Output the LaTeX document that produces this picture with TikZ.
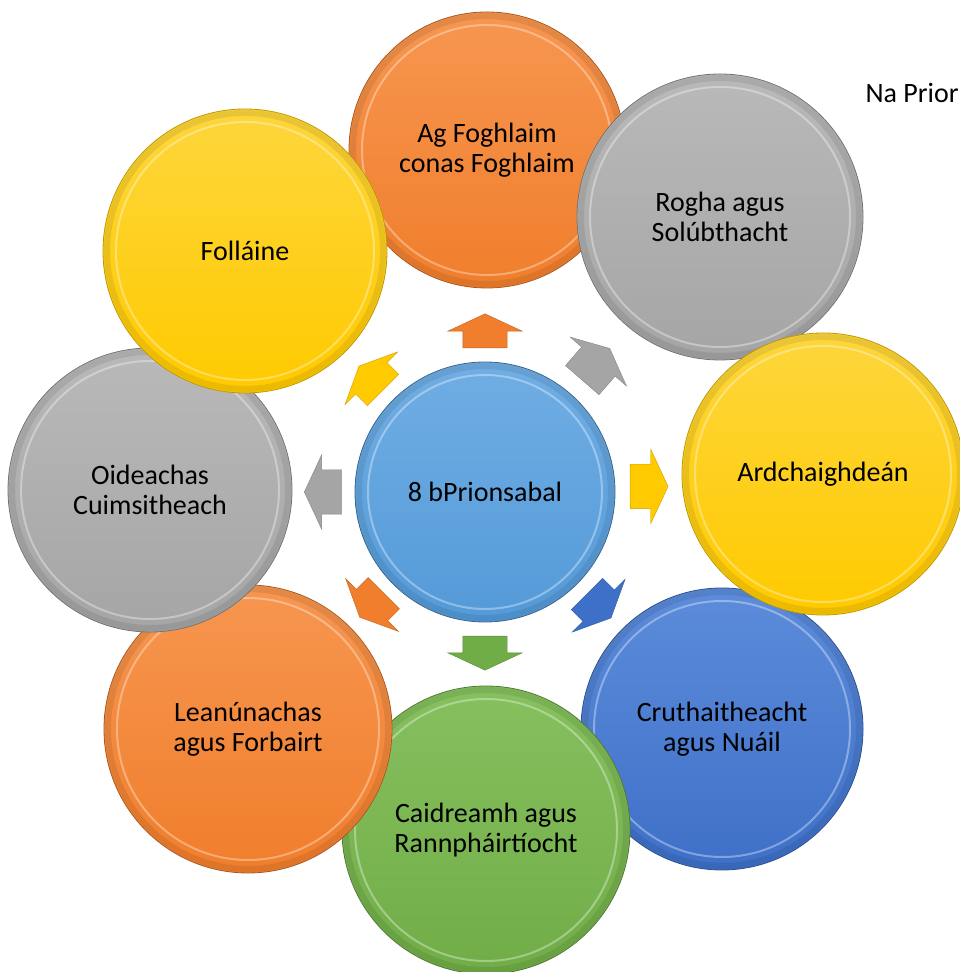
\documentclass[tikz,border=0pt]{standalone}
\usepackage{fontspec}
\setmainfont{Carlito}
\usetikzlibrary{shapes.arrows,calc}

\definecolor{orangeF}{RGB}{240,126,44}
\definecolor{orangeL}{RGB}{247,150,80}
\definecolor{greyF}{RGB}{165,165,165}
\definecolor{greyL}{RGB}{185,185,185}
\definecolor{yellowF}{RGB}{255,202,0}
\definecolor{yellowL}{RGB}{253,214,60}
\definecolor{blueF}{RGB}{62,112,200}
\definecolor{blueL}{RGB}{92,140,218}
\definecolor{greenF}{RGB}{112,173,71}
\definecolor{greenL}{RGB}{134,192,95}
\definecolor{hubF}{RGB}{84,154,216}
\definecolor{hubL}{RGB}{112,174,228}

\tikzset{
  disc/.style={circle, minimum size=#1, inner sep=0pt, align=center,
    font=\fontsize{28}{30}\selectfont, line width=.8pt,
    path picture={
      \draw[white, opacity=.35, line width=2pt]
        let \p1=($(path picture bounding box.east)-(path picture bounding box.center)$) in
        (path picture bounding box.center) circle[radius=\x1-13pt];
      \draw[black, opacity=.08, line width=6pt]
        let \p1=($(path picture bounding box.east)-(path picture bounding box.center)$) in
        (path picture bounding box.center) circle[radius=\x1-4pt];
    }},
  orangedisc/.style={top color=orangeL, bottom color=orangeF, draw=orangeF!70!black},
  greydisc/.style={top color=greyL, bottom color=greyF, draw=greyF!70!black},
  yellowdisc/.style={top color=yellowL, bottom color=yellowF, draw=yellowF!75!black},
  bluedisc/.style={top color=blueL, bottom color=blueF, draw=blueF!70!black},
  greendisc/.style={top color=greenL, bottom color=greenF, draw=greenF!70!black},
  hubdisc/.style={top color=hubL, bottom color=hubF, draw=hubF!65!black},
  blockarrow/.style={single arrow, inner xsep=0pt, inner ysep=22pt,
    minimum height=34pt, single arrow head extend=15pt,
    single arrow tip angle=130, draw=#1!80!black, line width=.4pt, fill=#1},
}

\begin{document}
\begin{tikzpicture}[x=1pt,y=1pt]
  \useasboundingbox (0,0) rectangle (959,972);

  % outer principles, back to front
  \node[disc=276, orangedisc] (learn) at (487,822) {Ag Foghlaim\\conas Foghlaim};
  \node[disc=286, greydisc] (choice) at (720,755) {Rogha agus\\Solúbthacht};
  \node[disc=282, bluedisc] (create) at (722,243) {Cruthaitheacht\\agus Nuáil};
  \node[disc=288, greendisc] (relate) at (486,142) {Caidreamh agus\\Rannpháirtíocht};
  \node[disc=288, orangedisc] (cont) at (248,243) {Leanúnachas\\agus Forbairt};
  \node[disc=284, greydisc] (incl) at (150,482) {Oideachas\\Cuimsitheach};
  \node[disc=284, yellowdisc] (well) at (245,721) {Folláine};
  \node[disc=282, yellowdisc] (qual) at (823,498) {Ardchaighdeán};

  % centre
  \node[disc=260, hubdisc] (hub) at (485,480) {8 bPrionsabal};

  % arrows out of the centre
  \node[blockarrow=orangeF, rotate=90] (toLearn) at ($(hub)+(90:156pt)$) {};
  \node[blockarrow=greyF, rotate=49, minimum height=42pt] (toChoice) at ($(hub)+(49:164pt)$) {};
  \node[blockarrow=yellowF, rotate=0, minimum height=38pt] (toQual) at ($(hub)+(2:159pt)$) {};
  \node[blockarrow=blueF, rotate=-45] (toCreate) at ($(hub)+(-45:156pt)$) {};
  \node[blockarrow=greenF, rotate=-90] (toRelate) at ($(hub)+(-90:156pt)$) {};
  \node[blockarrow=orangeF, rotate=-135] (toCont) at ($(hub)+(-135:155pt)$) {};
  \node[blockarrow=greyF, rotate=180, minimum height=37pt] (toIncl) at ($(hub)+(180:157pt)$) {};
  \node[blockarrow=yellowF, rotate=135] (toWell) at ($(hub)+(135:156pt)$) {};

  \node[anchor=base west, font=\fontsize{28}{30}\selectfont] (title) at (862,869) {Na Prior};
\end{tikzpicture}
\end{document}
